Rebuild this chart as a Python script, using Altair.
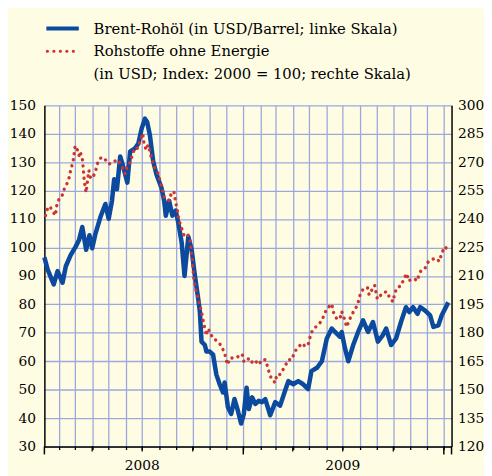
import altair as alt
import pandas as pd

# Brent crude oil (USD/barrel, left scale)
blue_dates = ["2008-01-05","2008-01-11","2008-01-22","2008-01-29","2008-02-07","2008-02-13","2008-02-22","2008-03-02","2008-03-08","2008-03-14",
              "2008-03-21","2008-03-27","2008-04-01","2008-04-07","2008-04-16","2008-04-25","2008-05-01","2008-05-07","2008-05-11","2008-05-16",
              "2008-05-22","2008-05-28","2008-06-04","2008-06-09","2008-06-18","2008-06-24","2008-06-30","2008-07-06","2008-07-10","2008-07-15",
              "2008-07-21","2008-07-27","2008-08-05","2008-08-10","2008-08-13","2008-08-19","2008-08-25","2008-08-31","2008-09-05","2008-09-11",
              "2008-09-16","2008-09-23","2008-09-29","2008-10-05","2008-10-11","2008-10-14","2008-10-17","2008-10-23","2008-10-26","2008-11-01",
              "2008-11-07","2008-11-13","2008-11-19","2008-11-25","2008-11-28","2008-12-04","2008-12-10","2008-12-16","2008-12-22","2008-12-28",
              "2009-01-02","2009-01-07","2009-01-11","2009-01-17","2009-01-23","2009-01-29","2009-02-04","2009-02-10","2009-02-19","2009-02-28",
              "2009-03-09","2009-03-18","2009-03-24","2009-04-02","2009-04-11","2009-04-20","2009-04-29","2009-05-05","2009-05-15","2009-05-24",
              "2009-06-02","2009-06-11","2009-06-17","2009-06-26","2009-06-29","2009-07-05","2009-07-11","2009-07-20","2009-07-29","2009-08-07",
              "2009-08-16","2009-08-25","2009-09-03","2009-09-12","2009-09-18","2009-09-27","2009-10-06","2009-10-15","2009-10-24","2009-10-30",
              "2009-11-06","2009-11-14","2009-11-19","2009-11-28","2009-12-07","2009-12-13","2009-12-22","2009-12-28","2010-01-03","2010-01-09"]
blue_values = [96.5,92.2,87,91.7,87.6,93.4,97.4,100.3,102.6,107.2,
               99.2,104.3,99.7,104.9,110.7,115.3,110.1,116.4,124,120.5,
               132,128,122.8,133.7,134.9,136.6,141.8,145.3,144.1,139.5,
               130.3,125.7,121,116.4,111.2,116.4,111.2,113,108.4,101.5,
               90,103.8,99.2,90,81.9,77.3,66.9,65.7,63.4,63.4,
               62.3,55.3,51.9,49,52.5,43.8,41.5,46.7,42.7,38.1,
               41.5,50.7,43.2,47.3,45,46.1,45.6,46.7,41,45.6,
               44.4,49.6,53,51.9,53,51.9,50.2,56.5,57.7,60,
               68,71.5,70.3,68.6,70.3,64.6,60,65.7,70.3,74.4,
               70.3,73.8,66.9,69.2,71.5,65.7,68,73.8,79,77.3,
               79,76.7,79,77.8,76.1,72.1,72.6,76.1,78.4,80.7]

# Non-energy commodities (USD, index 2000 = 100, right scale)
red_dates = ["2008-01-07","2008-01-12","2008-01-16","2008-01-21","2008-01-25","2008-01-28","2008-02-02","2008-02-08","2008-02-10","2008-02-15",
             "2008-02-19","2008-02-22","2008-02-26","2008-02-28","2008-03-01","2008-03-05","2008-03-08","2008-03-10","2008-03-14","2008-03-16",
             "2008-03-17","2008-03-19","2008-03-21","2008-03-23","2008-03-26","2008-03-29","2008-04-01","2008-04-07","2008-04-10","2008-04-16",
             "2008-04-22","2008-04-25","2008-05-01","2008-05-07","2008-05-11","2008-05-17","2008-05-22","2008-05-27","2008-05-31","2008-06-04",
             "2008-06-09","2008-06-13","2008-06-18","2008-06-23","2008-06-27","2008-07-02","2008-07-04","2008-07-08","2008-07-12","2008-07-16",
             "2008-07-20","2008-07-24","2008-07-28","2008-07-31","2008-08-04","2008-08-07","2008-08-10","2008-08-14","2008-08-19","2008-08-24",
             "2008-08-28","2008-08-31","2008-09-03","2008-09-05","2008-09-10","2008-09-15","2008-09-21","2008-09-26","2008-09-30","2008-10-03",
             "2008-10-08","2008-10-12","2008-10-17","2008-10-20","2008-10-23","2008-10-26","2008-10-28","2008-11-02","2008-11-06","2008-11-12",
             "2008-11-21","2008-11-28","2008-12-03","2008-12-08","2008-12-14","2008-12-20","2008-12-30","2009-01-02","2009-01-09","2009-01-15",
             "2009-01-21","2009-01-29","2009-02-04","2009-02-10","2009-02-14","2009-02-18","2009-02-22","2009-02-28","2009-03-03","2009-03-09",
             "2009-03-18","2009-03-24","2009-03-30","2009-04-05","2009-04-12","2009-04-18","2009-04-24","2009-04-30","2009-05-04","2009-05-09",
             "2009-05-17","2009-05-24","2009-05-30","2009-06-05","2009-06-11","2009-06-14","2009-06-20","2009-06-26","2009-06-29","2009-07-04",
             "2009-07-08","2009-07-14","2009-07-20","2009-07-28","2009-08-01","2009-08-07","2009-08-15","2009-08-18","2009-08-22","2009-08-28",
             "2009-08-31","2009-09-02","2009-09-07","2009-09-13","2009-09-20","2009-09-25","2009-10-01","2009-10-03","2009-10-08","2009-10-15",
             "2009-10-20","2009-10-25","2009-10-29","2009-11-04","2009-11-10","2009-11-13","2009-11-18","2009-11-22","2009-11-28","2009-12-04",
             "2009-12-10","2009-12-16","2009-12-24","2009-12-28","2010-01-03","2010-01-09"]
red_values = [241.9,246.6,246.2,243.6,241.9,248,251.4,253.1,255.7,258.6,
              261.8,266.1,269.9,274.2,278.6,276.5,273.5,275.6,272,266.1,
              261.8,257.4,254,259,265.6,261.8,261.4,264.9,269,272.1,
              272.5,271.3,269,269.5,270.4,271.3,269.5,266.6,263.8,267.8,
              269.9,273.9,277.7,277.3,281.2,285.1,280.4,276.5,279.1,274.2,
              270.4,266.9,265.2,263.2,258.3,255.2,251.4,250.2,249.7,254.5,
              254,248.8,244.5,240.2,235.8,231.5,232.4,228.9,218.5,208.2,
              201.3,196.9,190.9,186.5,182.2,178.5,182.2,180.5,177.1,176.2,
              173.6,169.3,163.2,166.7,166.7,167,168.8,165,166.7,164.1,
              165.8,163.2,165.8,165.8,162.4,158,155.4,153.7,158,158,
              162.4,165.8,165.8,170.2,172.7,174.5,172.7,174.5,179.6,182.2,
              184,186.5,190.9,193.5,195.2,190.9,187.4,187.4,191.2,187.4,
              183.1,187.4,190.9,194.7,199.5,203,203.9,200,202.1,205.1,
              200.4,197.8,199.5,201.3,201.6,197.8,196.4,200.4,203.9,204.7,
              208.2,211.3,207.3,208.5,208.2,207.3,211.6,213.4,214.2,217.7,
              218.5,219.4,217.7,222,225.4,223.4]

left_ticks = list(range(30, 151, 10))
right_ticks = list(range(120, 301, 15))
month_ticks = [(2008, m) for m in range(2, 13)] + [(2009, m) for m in range(1, 13)] + [(2010, 1)]
quarter_ticks = ["2008-04-01", "2008-07-01", "2008-10-01", "2009-04-01", "2009-07-01", "2009-10-01"]
year_ticks = ["2009-01-01", "2010-01-01"]
year_labels = ["2008", "2009"]
year_label_dates = ["2008-07-01", "2009-07-01"]
legend_labels = ["Brent-Rohöl (in USD/Barrel; linke Skala)",
                 "Rohstoffe ohne Energie",
                 "(in USD; Index: 2000 = 100; rechte Skala)"]

BLUE = "#0B4A9E"
RED = "#CC3333"
GRID = "#9AA8DE"
FONT = "DejaVu Serif"
AX_FS = 14
LEG_FS = 15
W, H = 414, 347

blue_df = pd.DataFrame({"date": blue_dates, "brent": blue_values})
red_df = pd.DataFrame({"date": red_dates, "index": red_values})

xscale = alt.Scale(domain=[alt.DateTime(year=2008, month=1, date=5),
                           alt.DateTime(year=2010, month=1, date=15)])
xaxis = alt.Axis(values=[alt.DateTime(year=y, month=m, date=1) for y, m in month_ticks],
                 labels=False, title=None, grid=True, gridColor=GRID, gridWidth=1.3,
                 tickSize=3, tickColor="black", tickWidth=1.3,
                 domainColor="black", domainWidth=1.5)

blue = alt.Chart(blue_df).mark_line(color=BLUE, strokeWidth=4.6, strokeJoin="round").encode(
    x=alt.X("date:T", scale=xscale, axis=xaxis),
    y=alt.Y("brent:Q", scale=alt.Scale(domain=[30, 150], nice=False),
            axis=alt.Axis(values=left_ticks, title=None, orient="left", grid=True,
                          gridColor=GRID, gridWidth=1.3, ticks=False,
                          labelFont=FONT, labelFontSize=AX_FS, labelColor="black",
                          labelPadding=9, domainColor="black", domainWidth=1.5)),
)

red = alt.Chart(red_df).mark_line(color=RED, strokeWidth=3.4, strokeDash=[0.1, 6.2],
                                  strokeCap="round").encode(
    x=alt.X("date:T", scale=xscale, axis=None),
    y=alt.Y("index:Q", scale=alt.Scale(domain=[120, 300], nice=False),
            axis=alt.Axis(values=right_ticks, title=None, orient="right", grid=False,
                          ticks=False, labelFont=FONT, labelFontSize=AX_FS, labelColor="black",
                          labelPadding=6, domainColor="black", domainWidth=1.5)),
)

qt = alt.Chart(pd.DataFrame({"date": quarter_ticks})).mark_rule(color="black", strokeWidth=1.3).encode(
    x=alt.X("date:T", scale=xscale, axis=None),
    y=alt.value(H), y2=alt.value(H + 5))
yt = alt.Chart(pd.DataFrame({"date": year_ticks})).mark_rule(color="black", strokeWidth=1.5).encode(
    x=alt.X("date:T", scale=xscale, axis=None),
    y=alt.value(H), y2=alt.value(H + 8))
edges = alt.Chart(pd.DataFrame({"e": [0, W]})).mark_rule(color="black", strokeWidth=1.5).encode(
    x=alt.X("e:Q", scale=alt.Scale(domain=[0, W], range=[0, W]), axis=None),
    y=alt.value(H), y2=alt.value(H + 8))

ylab = alt.Chart(pd.DataFrame({"date": year_label_dates, "label": year_labels})).mark_text(
    font=FONT, fontSize=AX_FS, color="black", baseline="alphabetic", align="center").encode(
    x=alt.X("date:T", scale=xscale, axis=None), y=alt.value(H + 24), text="label:N")

leg_blue = alt.Chart(pd.DataFrame({"a": [0]})).mark_rule(color=BLUE, strokeWidth=4).encode(
    x=alt.value(2), x2=alt.value(35), y=alt.value(-78))
leg_red = alt.Chart(pd.DataFrame({"a": [0]})).mark_rule(color=RED, strokeWidth=3.2,
                                                        strokeDash=[0.1, 6.5], strokeCap="round").encode(
    x=alt.value(3), x2=alt.value(35), y=alt.value(-55))
leg_text = [
    alt.Chart(pd.DataFrame({"t": [legend_labels[i]]})).mark_text(
        font=FONT, fontSize=LEG_FS, color="black", align="left", baseline="middle").encode(
        x=alt.value(50), y=alt.value(yy), text="t:N")
    for i, yy in enumerate([-78, -55, -32])
]

chart = alt.layer(blue, red, qt, yt, edges, ylab, leg_blue, leg_red, *leg_text).resolve_scale(
    y="independent", x="shared"
).properties(
    width=W, height=H,
    autosize=alt.AutoSizeParams(type="none"),
    padding={"left": 37, "top": 95, "right": 33, "bottom": 26},
    background="#FFFCE4",
).configure_view(stroke=None)

chart.save("out.html", embed_options={"renderer": "svg", "actions": False})
